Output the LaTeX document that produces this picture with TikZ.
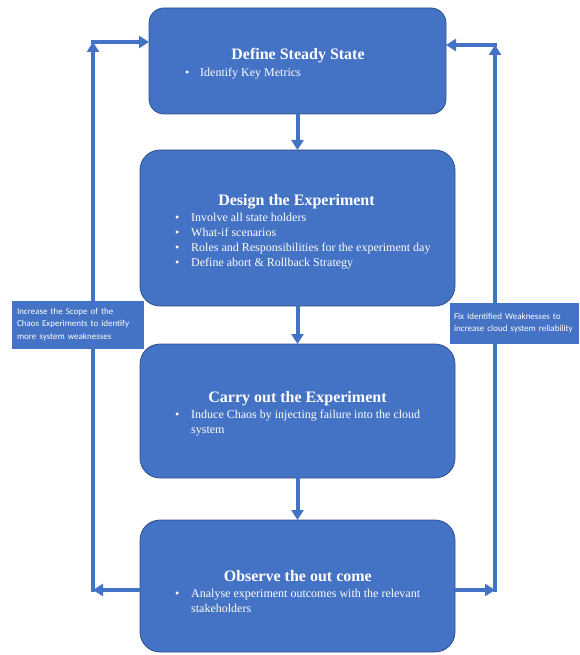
\documentclass[tikz,border=0pt]{standalone}
\usepackage{fontspec}
\setmainfont{Liberation Serif}
\newfontfamily\labelfont{Carlito}
\usetikzlibrary{arrows.meta}
\definecolor{boxblue}{HTML}{4472C4}
\definecolor{edgeblue}{HTML}{2F528F}
\newcommand{\bulA}{\makebox[15pt][l]{\textbullet}}
\newcommand{\bulB}{\makebox[16pt][l]{\textbullet}}
\newcommand{\bulN}{\makebox[16pt][l]{}}
\begin{document}
\begin{tikzpicture}[x=1pt,y=-1pt,
  bigbox/.style={draw=edgeblue, line width=0.8pt, fill=boxblue, inner sep=0pt, outer sep=0pt},
  titletext/.style={text=white, font=\fontsize{16}{19}\selectfont\bfseries, anchor=base, inner sep=0pt},
  bullets/.style={text=white, font=\fontsize{12}{15}\selectfont, anchor=base west, inner sep=0pt},
  note/.style={fill=boxblue, draw=boxblue, text=white, font=\labelfont\fontsize{9}{12.5}\selectfont, align=left, inner ysep=0pt, outer sep=0pt},
  flow/.style={draw=boxblue, line width=4pt, -{Triangle[length=10pt,width=12pt]}}]
\useasboundingbox (0,0) rectangle (579,655);

% main boxes
\node[bigbox, rounded corners=15pt, minimum width=297pt, minimum height=106pt] (b1) at (297.5,61) {};
\node[bigbox, rounded corners=20pt, minimum width=315pt, minimum height=156pt] (b2) at (297.5,228) {};
\node[bigbox, rounded corners=20pt, minimum width=315pt, minimum height=134pt] (b3) at (297.5,411) {};
\node[bigbox, rounded corners=20pt, minimum width=315pt, minimum height=132pt] (b4) at (297.5,586) {};

% texts
\node[titletext] (t1) at (298,60) {Define Steady State};
\node[bullets] (l1) at (185,77) {\begin{tabular}[t]{@{}l@{}}\bulA Identify Key Metrics\end{tabular}};

\node[titletext] (t2) at (296.5,205) {Design the Experiment};
\node[bullets] (l2) at (175,221) {\begin{tabular}[t]{@{}l@{}}
\bulB Involve all state holders\\
\bulB What-if scenarios\\
\bulB Roles and Responsibilities for the experiment day\\
\bulB Define abort \& Rollback Strategy\end{tabular}};

\node[titletext] (t3) at (297.5,402) {Carry out the Experiment};
\node[bullets] (l3) at (175,418) {\begin{tabular}[t]{@{}l@{}}
\bulB Induce Chaos by injecting failure into the cloud\\
\bulN system\end{tabular}};

\node[titletext] (t4) at (297.8,581) {Observe the out come};
\node[bullets] (l4) at (175,597) {\begin{tabular}[t]{@{}l@{}}
\bulB Analyse experiment outcomes with the relevant\\
\bulN stakeholders\end{tabular}};

% vertical flow
\draw[flow] (b1.south) -- (b2.north);
\draw[flow] (b2.south) -- (b3.north);
\draw[flow] (b3.south) -- (b4.north);

% left loop
\coordinate (lc1) at (93,590);
\coordinate (lc2) at (93,42);
\draw[flow] (b4.west |- lc1) -- (lc1);
\draw[flow, shorten <=-2pt] (lc1) -- (lc2);
\draw[flow] ([xshift=-2pt]lc2) -- (b1.west |- lc2);

% right loop
\coordinate (rc1) at (495,590);
\coordinate (rc2) at (495,45);
\draw[flow] (b4.east |- rc1) -- (rc1);
\draw[flow, shorten <=-2pt] (rc1) -- (rc2);
\draw[flow] ([xshift=2pt]rc2) -- (b1.east |- rc2);

% notes
\node[note, minimum width=131pt, minimum height=47pt, text width=121pt, inner xsep=5pt] (n1) at (77.5,324.5)
  {Increase the Scope of the\\Chaos Experiments to identify\\more system weaknesses};
\node[note, minimum width=128pt, minimum height=40pt, text width=120pt, inner xsep=4pt] (n2) at (514,323)
  {Fix Identified Weaknesses to\\increase cloud system reliability};
\end{tikzpicture}
\end{document}
